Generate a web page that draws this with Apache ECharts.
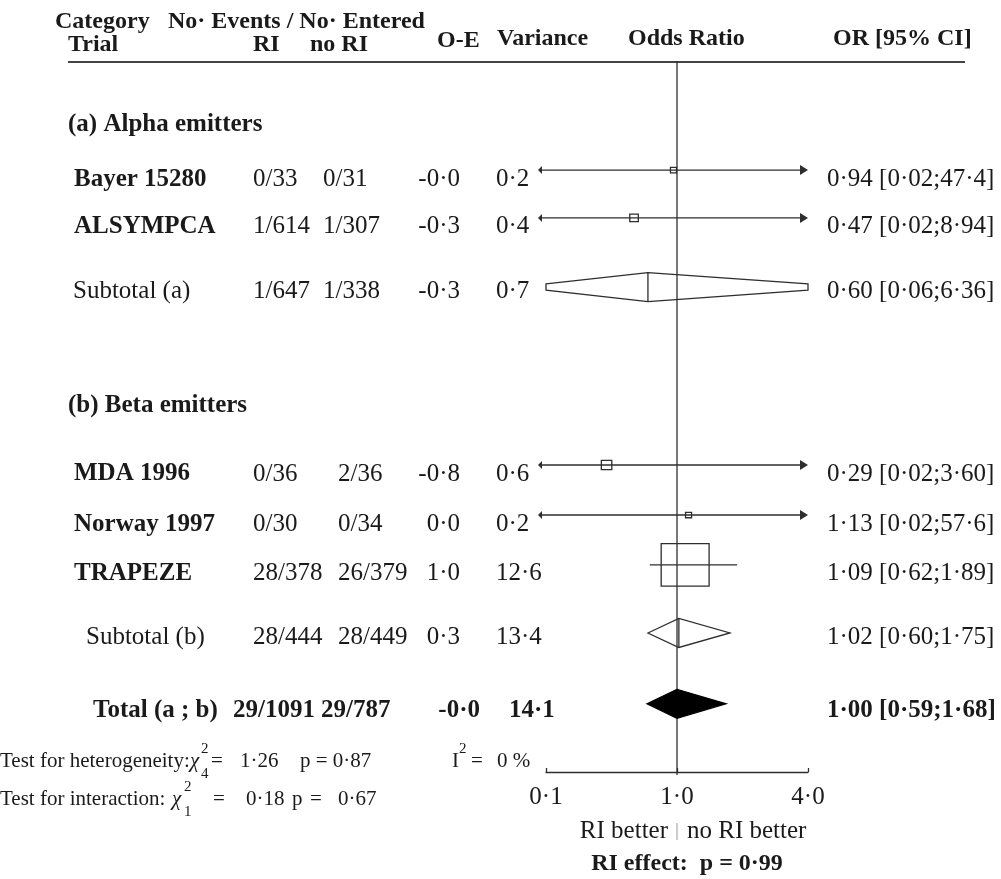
<!DOCTYPE html>
<html><head><meta charset="utf-8">
<script src="https://cdn.jsdelivr.net/npm/echarts@6/dist/echarts.min.js"></script>
<style>html,body{margin:0;padding:0;background:#fff}#c{width:1001px;height:879px}</style>
</head><body><div id="c"></div>
<script>
// ---------------- DATA ----------------
const trials     = ['Bayer 15280','ALSYMPCA','Subtotal (a)','MDA 1996','Norway 1997','TRAPEZE','Subtotal (b)','Total (a ; b)'];
const rowKind    = ['trial','trial','subtotal','trial','trial','trial','subtotal','total'];
const eventsRI   = ['0/33','1/614','1/647','0/36','0/30','28/378','28/444','29/1091'];
const eventsNoRI = ['0/31','1/307','1/338','2/36','0/34','26/379','28/449','29/787'];
const oMinusE    = [-0.02,-0.3,-0.3,-0.8,0.0,1.0,0.3,-0.02];
const variance   = [0.2,0.4,0.7,0.6,0.2,12.6,13.4,14.1];
const oddsRatio  = [0.94,0.47,0.60,0.29,1.13,1.09,1.02,1.00];
const ciLow      = [0.02,0.02,0.06,0.02,0.02,0.62,0.60,0.59];
const ciHigh     = [47.4,8.94,6.36,3.60,57.6,1.89,1.75,1.68];
const sections   = ['(a) Alpha emitters','(b) Beta emitters'];
const xTicks     = [0.1,1.0,4.0];
const heterogeneity = {chi2:1.26, df:4, p:0.87, i2:0};
const interaction   = {chi2:0.18, df:1, p:0.67};
const riEffectP     = 0.99;

// ---------------- LAYOUT ----------------
const rowSlot     = [4.45,6.40,9.22,16.48,18.52,20.55,23.33,26.22];
const sectionSlot = [2.53,13.99];
const Y_MAX = 29;
const nameX   = [74,74,73,74,74,74,86,93];
const riX     = [253,253,253,253,253,253,253,233];
const noRiX   = [323,323,323,338,338,338,338,321];
const oeRight = [460,460,460,460,460,460,460,480];
const varX    = [496,496,496,496,496,496,496,509];
const ciX = 827;
const textDy = {trial:9, subtotal:4, total:7};

const SERIF = '"Liberation Serif","Times New Roman",serif';
const REG = '25px ' + SERIF, BOLD = 'bold 25px ' + SERIF, HEAD = 'bold 24px ' + SERIF;
const INK = '#1a1a1a', LINE = '#2e2e2e';

const dot = s => s.replace('.', '·');
const fmtCI = v => dot(v >= 10 ? v.toFixed(1) : v.toFixed(2));
const fmt1 = v => dot(v.toFixed(1));

// piecewise log transform: 0.1 -> -1, 1 -> 0, 4 -> 1
function tx(v){
  const [a,b,c] = xTicks;
  return v <= b ? Math.log10(v/b)/Math.log10(b/a) : Math.log10(v/b)/Math.log10(c/b);
}

const chart = echarts.init(document.getElementById('c'), null, {renderer:'canvas'});

const markData = trials.map((t,i) => [tx(oddsRatio[i]), rowSlot[i], tx(ciLow[i]), tx(ciHigh[i]), variance[i], i]);

function txt(x, y, text, font, align){
  return {type:'text', x:x, y:y, silent:true,
    style:{text:text, font:font, fill:INK, textAlign:align||'left', textVerticalAlign:'middle'}};
}

const option = {
  animation:false,
  grid:{left:546, right:1001-808, top:61, bottom:879-772, containLabel:false},
  xAxis:{type:'value', min:-1, max:1, interval:1, position:'bottom',
    axisLine:{show:true, onZero:false, lineStyle:{color:LINE, width:1.3}},
    axisTick:{show:true, inside:true, length:4, lineStyle:{color:LINE, width:1.3}},
    splitLine:{show:false},
    axisLabel:{margin:13, color:INK, fontFamily:SERIF, fontSize:25,
      formatter: v => { const k = xTicks.find(t => Math.abs(tx(t)-v) < 1e-6); return k === undefined ? '' : dot(k.toFixed(1)); }}
  },
  yAxis:{type:'value', min:0, max:Y_MAX, inverse:true, show:false},
  series:[
    { // reference line at OR = 1
      type:'custom', data:[[tx(1)]], clip:false,
      renderItem(params, api){
        const p0 = api.coord([api.value(0), 0]);
        const p1 = api.coord([api.value(0), Y_MAX]);
        return {type:'line', shape:{x1:p0[0], y1:p0[1], x2:p1[0], y2:p1[1]+3}, style:{stroke:LINE, lineWidth:1.3}};
      }
    },
    { // CI lines, boxes, diamonds
      type:'custom', data:markData, clip:false,
      renderItem(params, api){
        const i = api.value(5);
        const kind = rowKind[i];
        const c = api.coord([api.value(0), api.value(1)]);
        const lo = api.value(2), hi = api.value(3);
        const pl = api.coord([Math.max(lo,-1), api.value(1)])[0];
        const ph = api.coord([Math.min(hi,1), api.value(1)])[0];
        const axL = api.coord([-1,0])[0], axR = api.coord([1,0])[0];
        const cy = c[1];
        const ch = [];
        if (kind === 'trial'){
          const leftArrow = lo < -1, rightArrow = hi > 0.9;
          const x1 = leftArrow ? axL - 5 : pl;
          const x2 = rightArrow ? axR - 6 : ph;
          ch.push({type:'line', shape:{x1:x1, y1:cy, x2:x2, y2:cy}, style:{stroke:LINE, lineWidth:1.4}});
          if (leftArrow) ch.push({type:'polygon', shape:{points:[[axL-8,cy],[axL-4,cy-4],[axL-4,cy+4]]}, style:{fill:LINE}});
          if (rightArrow) ch.push({type:'polygon', shape:{points:[[axR,cy],[axR-8,cy-5],[axR-8,cy+5]]}, style:{fill:LINE}});
          const s = Math.sqrt(api.value(4));
          const w = 13.5*s, h = 12*s;
          ch.push({type:'rect', shape:{x:c[0]-w/2, y:cy-h/2, width:w, height:h}, style:{fill:'none', stroke:LINE, lineWidth:1.3}});
        } else {
          const H = 14.5;
          const rawL = api.coord([lo, 0])[0], rawR = api.coord([hi, 0])[0];
          const L = Math.max(rawL, axL), R = Math.min(rawR, axR);
          const hL = rawL < axL ? H*(1 - (c[0]-L)/(c[0]-rawL)) : 0;
          const hR = rawR > axR ? H*(1 - (R-c[0])/(rawR-c[0])) : 0;
          const pts = [[L,cy-hL],[c[0],cy-H],[R,cy-hR],[R,cy+hR],[c[0],cy+H],[L,cy+hL]];
          const filled = kind === 'total';
          ch.push({type:'polygon', shape:{points:pts}, style:{fill: filled ? '#000' : 'none', stroke: filled ? '#000' : LINE, lineWidth:1.3}});
          if (!filled) ch.push({type:'line', shape:{x1:c[0], y1:cy-H, x2:c[0], y2:cy+H}, style:{stroke:LINE, lineWidth:1.3}});
        }
        return {type:'group', children:ch};
      }
    },
    { // table text rows
      type:'custom', data:trials.map((t,i)=>[0, rowSlot[i], i]), clip:false,
      renderItem(params, api){
        const i = api.value(2);
        const kind = rowKind[i];
        const y = api.coord([0, api.value(1)])[1] + textDy[kind];
        const nameFont = kind !== 'subtotal' ? BOLD : REG;
        const numFont = kind === 'total' ? BOLD : REG;
        return {type:'group', children:[
          txt(nameX[i], y, trials[i], nameFont),
          txt(riX[i], y, eventsRI[i], numFont),
          txt(noRiX[i], y, eventsNoRI[i], numFont),
          txt(oeRight[i], y, fmt1(oMinusE[i]), numFont, 'right'),
          txt(varX[i], y, fmt1(variance[i]), numFont),
          txt(ciX, y, dot(oddsRatio[i].toFixed(2)) + ' [' + fmtCI(ciLow[i]) + ';' + fmtCI(ciHigh[i]) + ']', numFont)
        ]};
      }
    },
    { // section headers
      type:'custom', data:sections.map((s,i)=>[0, sectionSlot[i], i]), clip:false,
      renderItem(params, api){
        const y = api.coord([0, api.value(1)])[1] + 2;
        return txt(68, y, sections[api.value(2)], BOLD);
      }
    }
  ]
};
chart.setOption(option);

const cx = chart.convertToPixel({xAxisIndex:0}, tx(1));
const T21 = '21px ' + SERIF, SUP = '15px ' + SERIF, CHI = 'italic 21px ' + SERIF;
const g = [];
function gt(x, y, text, font, align){ g.push({type:'text', x:x, y:y, silent:true, style:{text:text, font:font, fill:INK, textAlign:align||'left', textVerticalAlign:'middle'}}); }
// header
gt(55, 22, 'Category', HEAD);
gt(168, 22, 'No· Events / No· Entered', HEAD);
gt(68, 45, 'Trial', HEAD);
gt(253, 45, 'RI', HEAD);
gt(310, 45, 'no RI', HEAD);
gt(437, 41, 'O-E', HEAD);
gt(497, 39, 'Variance', HEAD);
gt(628, 39, 'Odds Ratio', HEAD);
gt(833, 39, 'OR [95% CI]', HEAD);
g.push({type:'line', shape:{x1:68, y1:62, x2:965, y2:62}, style:{stroke:'#444', lineWidth:2}});
// tests
const y1 = 761, y2 = 799;
gt(0, y1, 'Test for heterogeneity:', T21);
gt(190, y1, 'χ', CHI);
gt(201, y1-12, '2', SUP); gt(201, y1+13, String(heterogeneity.df), SUP);
gt(211, y1, '=', T21);
gt(240, y1, dot(heterogeneity.chi2.toFixed(2)), T21);
gt(300, y1, 'p = ' + dot(heterogeneity.p.toFixed(2)), T21);
gt(452, y1, 'I', T21);
gt(459, y1-12, '2', SUP);
gt(471, y1, '=', T21);
gt(497, y1, heterogeneity.i2 + ' %', T21);
gt(0, y2, 'Test for interaction:', T21);
gt(172, y2, 'χ', CHI);
gt(184, y2-12, '2', SUP); gt(184, y2+13, String(interaction.df), SUP);
gt(213, y2, '=', T21);
gt(246, y2, dot(interaction.chi2.toFixed(2)), T21);
gt(292, y2, 'p', T21);
gt(310, y2, '=', T21);
gt(338, y2, dot(interaction.p.toFixed(2)), T21);
// bottom labels
gt(cx-9, 831, 'RI better', REG, 'right');
gt(cx+10, 831, 'no RI better', REG, 'left');
g.push({type:'line', shape:{x1:cx, y1:823, x2:cx, y2:840}, style:{stroke:'#999', lineWidth:1}});
gt(cx+10, 864, 'RI effect:  p = ' + dot(riEffectP.toFixed(2)), 'bold 24px ' + SERIF, 'center');
chart.setOption({graphic:{elements:g}});
</script></body></html>
